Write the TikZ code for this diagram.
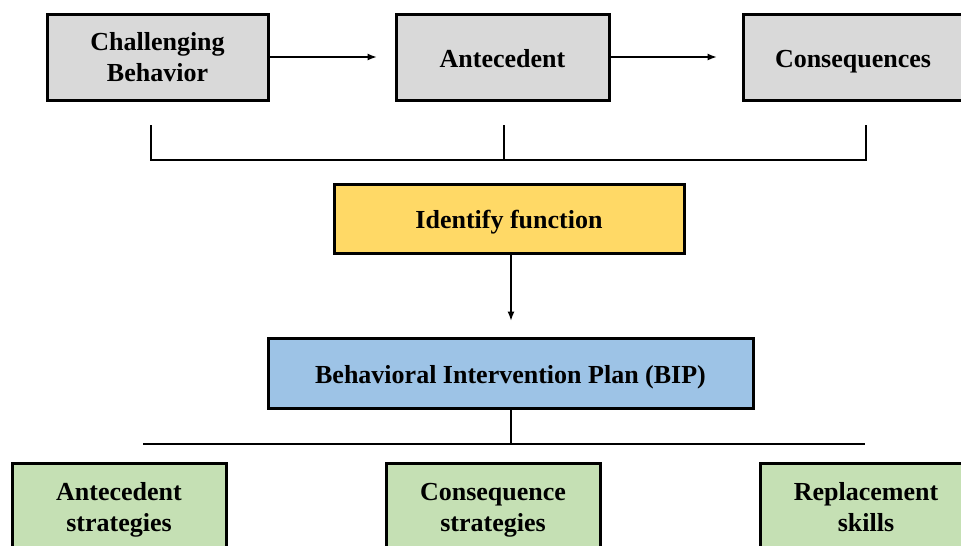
\documentclass[tikz,border=0pt]{standalone}
\usepackage{fontspec}
\setmainfont{Liberation Serif}
\usetikzlibrary{arrows.meta}

\definecolor{cinza}{HTML}{D9D9D9}
\definecolor{amarelo}{HTML}{FFD966}
\definecolor{azul}{HTML}{9DC3E6}
\definecolor{verde}{HTML}{C5E0B4}

\begin{document}
\begin{tikzpicture}[
        x=1pt, y=-1pt,
        caixa/.style={shape=rectangle, draw=black, line width=3pt, inner sep=0pt,
            align=center, font=\fontsize{26}{31}\selectfont\bfseries},
        umalinha/.style={text height=22pt, text depth=2pt},
        duaslinhas/.style={text depth=0pt},
        topo/.style={caixa, fill=cinza, minimum height=86pt},
        funcao/.style={caixa, umalinha, fill=amarelo, minimum width=350pt, minimum height=69pt},
        plano/.style={caixa, umalinha, fill=azul, minimum width=485pt, minimum height=70pt},
        baixo/.style={caixa, duaslinhas, fill=verde, minimum width=214pt, minimum height=88pt},
        seta/.style={line width=1.1pt, -{Latex[length=9pt,width=7pt]}},
        chave/.style={line width=2pt},
    ]
    \useasboundingbox (0,0) rectangle (961,546);
    \clip (0,0) rectangle (961,546);

    \node[topo, duaslinhas, minimum width=221pt] (cb) at (157.5, 57) {Challenging\\Behavior};
    \node[topo, umalinha, minimum width=213pt] (ant) at (502.5, 57) {Antecedent};
    \node[topo, umalinha, minimum width=220pt] (cons) at (853, 57) {Consequences};

    \draw[seta, shorten >=18pt] (cb) -- (ant);
    \draw[seta, shorten >=25pt] (ant) -- (cons);

    % chave que junta as tres caixas
    \coordinate (c1) at (151, 125);
    \coordinate (c2) at (504, 125);
    \coordinate (c3) at (866, 125);
    \coordinate (h1) at (151, 160);
    \coordinate (h3) at (866, 160);
    \draw[chave] (c1) -- (h1) -- (h3) -- (c3);
    \draw[chave] (c2) -- (c2 |- h1);

    \node[funcao] (idf) at (509, 218.5) {Identify function};
    \node[plano] (bip) at (510.5, 373) {Behavioral Intervention Plan (BIP)};

    \draw[seta, shorten >=16pt] (idf.south -| 511,0) -- (bip.north -| 511,0);

    \coordinate (l1) at (143, 444);
    \coordinate (l2) at (865, 444);
    \draw[chave] (l1) -- (l2);
    \draw[chave] (bip.south -| 511,0) -- (l1 -| 511,0);

    \node[baixo] (as) at (119, 507) {Antecedent\\strategies};
    \node[baixo] (cs) at (493, 507) {Consequence\\strategies};
    \node[baixo, minimum width=212pt] (rs) at (866, 507) {Replacement\\skills};

\end{tikzpicture}
\end{document}
